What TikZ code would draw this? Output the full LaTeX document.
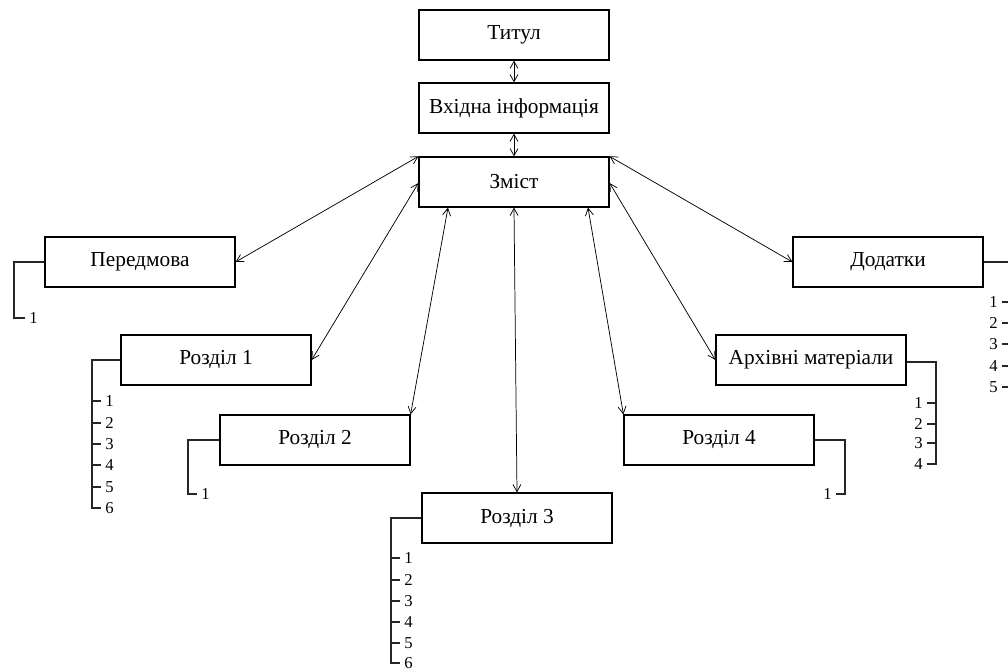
\documentclass[tikz,border=0pt]{standalone}
\usepackage{fontspec}
\setmainfont{Liberation Serif}
\usetikzlibrary{arrows.meta, positioning, calc}
\tikzset{
  part/.style={rectangle, draw=black, line width=0.9pt, inner sep=0pt,
               minimum width=142.5pt, minimum height=37.5pt, font=\fontsize{16}{18}\selectfont},
  lnk/.style={{Straight Barb[length=1.9mm,width=2.1mm]}-{Straight Barb[length=1.9mm,width=2.1mm]}, draw=black, line width=0.55pt},
  tree/.style={draw=black!85, line width=0.8pt},
  num/.style={inner xsep=3pt, inner ysep=1pt, font=\fontsize{12.5}{13}\selectfont}
}

\begin{document}
\begin{tikzpicture}[x=0.75pt, y=-0.75pt]
\useasboundingbox (0,0) rectangle (1008,670);
% boxes
\node[part] (tyt) at (514,35) {Титул};
\node[part] (vhid) at (514,108) {Вхідна інформація};
\node[part] (zm) at (514,182) {Зміст};
\node[part] (pered) at (140,262) {Передмова};
\node[part] (r1) at (216,360) {Розділ 1};
\node[part] (r2) at (315,440) {Розділ 2};
\node[part] (r3) at (517,518) {Розділ 3};
\node[part] (r4) at (719,440) {Розділ 4};
\node[part] (arh) at (811,360) {Архівні матеріали};
\node[part] (dod) at (888,262) {Додатки};
% links
\draw[lnk] (tyt) -- (vhid);
\draw[lnk] (vhid) -- (zm);
\draw[lnk] (zm.north west) -- (pered.east);
\draw[lnk] (zm.west |- 0,183) -- (r1.east);
\draw[lnk] (zm.south -| 448,0) -- (r2.north east);
\draw[lnk] (zm.south) -- (r3.north);
\draw[lnk] (zm.south -| 588,0) -- (r4.north west);
\draw[lnk] (zm.east |- 0,183) -- (arh.west);
\draw[lnk] (zm.north east) -- (dod.west);
% Передмова
\node[num, anchor=west] (p1) at (25,318) {1};
\draw[tree] (pered.west) -| (14,318) -- (p1.west);
% Розділ 1
\coordinate (r1b) at (92,360);
\foreach \i/\y in {1/401,2/423,3/444,4/465,5/487,6/508}
  \node[num, anchor=west] (r1n\i) at (101,\y) {\i};
\draw[tree] (r1.west) -- (r1b) |- (r1n6.west);
\foreach \i in {1,...,5}
  \draw[tree] (r1b |- r1n\i.west) -- (r1n\i.west);
% Розділ 2
\node[num, anchor=west] (r2n1) at (197,494) {1};
\draw[tree] (r2.west) -| (188,494) -- (r2n1.west);
% Розділ 3
\coordinate (r3b) at (391,518);
\foreach \i/\y in {1/558,2/580,3/601,4/622,5/643,6/663}
  \node[num, anchor=west] (r3n\i) at (400,\y) {\i};
\draw[tree] (r3.west) -- (r3b) |- (r3n6.west);
\foreach \i in {1,...,5}
  \draw[tree] (r3b |- r3n\i.west) -- (r3n\i.west);
% Розділ 4
\node[num, anchor=east] (r4n1) at (836,494) {1};
\draw[tree] (r4.east) -| (845,494) -- (r4n1.east);
% Архівні матеріали
\coordinate (arhb) at (936,362);
\foreach \i/\y in {1/403,2/424,3/443,4/464}
  \node[num, anchor=east] (arhn\i) at (927,\y) {\i};
\draw[tree] (arh.east |- arhb) -- (arhb) |- (arhn4.east);
\foreach \i in {1,...,3}
  \draw[tree] (arhb |- arhn\i.east) -- (arhn\i.east);
% Додатки
\coordinate (dodb) at (1014,262);
\foreach \i/\y in {1/302,2/323,3/344,4/366,5/387}
  \node[num, anchor=east] (dodn\i) at (1002,\y) {\i};
\draw[tree] (dod.east) -- (dodb) |- (dodn5.east);
\foreach \i in {1,...,4}
  \draw[tree] (dodb |- dodn\i.east) -- (dodn\i.east);
\end{tikzpicture}
\end{document}
